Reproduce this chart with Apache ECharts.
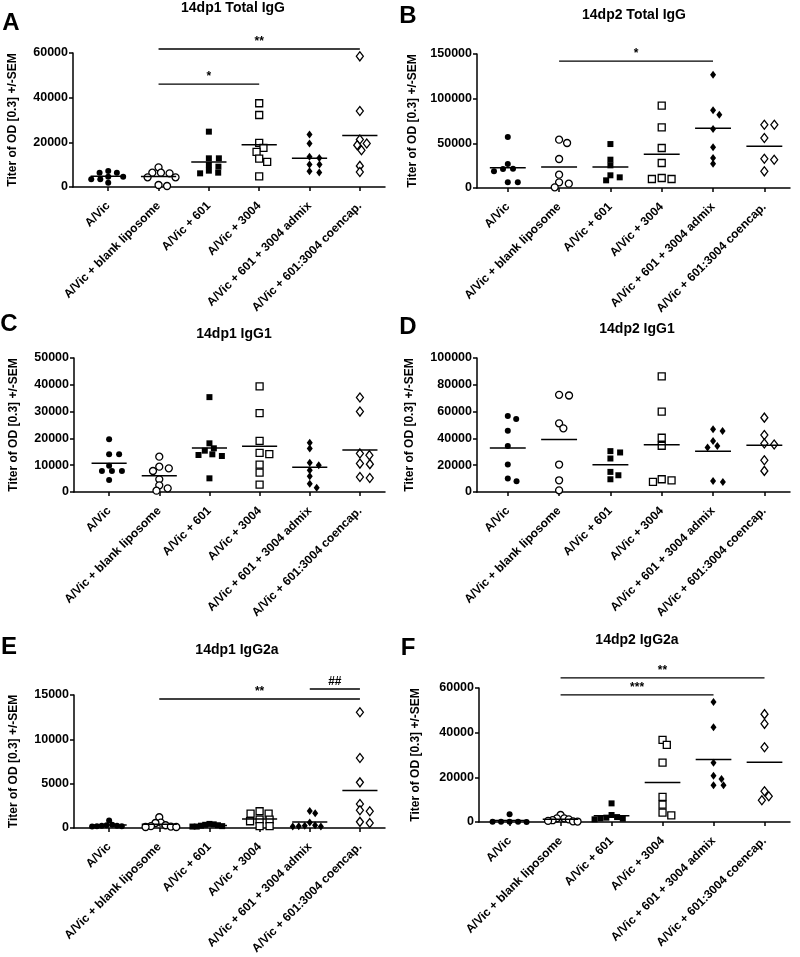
<!DOCTYPE html>
<html><head><meta charset="utf-8">
<script src="https://cdn.jsdelivr.net/npm/echarts@6/dist/echarts.min.js"></script>
<style>html,body{margin:0;padding:0;background:#fff}#c{width:800px;height:957px}</style>
</head><body><div id="c"></div>
<script>
const categories = ['A/Vic','A/Vic + blank liposome','A/Vic + 601','A/Vic + 3004','A/Vic + 601 + 3004 admix','A/Vic + 601:3004 coencap.'];
const titles = ['14dp1 Total IgG','14dp2 Total IgG','14dp1 IgG1','14dp2 IgG1','14dp1 IgG2a','14dp2 IgG2a'];
const letters = ['A','B','C','D','E','F'];
const yMax = [60000,150000,50000,100000,15000,60000];
const yStep = [20000,50000,10000,20000,5000,20000];
const yName = 'Titer of OD [0.3] +/-SEM';

const panelA = [
  [7170,6420,6420,4630,4630,3430,3430,1940],
  [8810,6420,6420,6120,4330,4330,900,450],
  [24780,12840,12840,9850,9110,7320,6420,6120],
  [37500,32250,19800,17550,15750,12750,11250,4800],
  [23550,19500,13500,13000,10050,10050,7050,6450],
  [58500,34050,21300,19500,18750,16500,9450,6750]
];
const panelB = [
  [57000,26900,21600,21300,18650,6340,6340],
  [54100,50350,32450,14900,6340,4850,750],
  [49200,31700,25360,14200,11940,8580],
  [92100,67900,44800,27980,11190,10070,10070],
  [126800,86900,82060,66000,45500,33570,27230],
  [70870,70870,55950,32800,31700,18650]
];
const panelC = [
  [19650,14060,14060,9830,7840,7840,7840,4480],
  [13190,9450,8830,7840,4730,2490,1370,500],
  [35400,18160,16300,15420,14060,13810,13440,5100],
  [39400,29400,19100,14600,14100,10250,7250,2750],
  [18400,16250,10900,10000,8100,5900,3100,1600],
  [35250,30000,14400,13750,10600,10400,5600,5250]
];
const panelD = [
  [56750,54500,45750,34250,20500,10000,8000],
  [72500,72000,51250,47500,20500,8750,1250],
  [30500,29500,25000,15000,12500,9500],
  [86250,60000,40500,34500,9500,8750,7500],
  [46750,45500,38000,34250,33250,8250,7500],
  [55500,42500,36250,35500,23750,15750]
];
const panelE = [
  [830,350,300,250,250,200,200,150],
  [1200,600,550,300,200,150,100,100],
  [450,400,350,300,250,200,150,150],
  [1880,1610,1610,940,940,750,190,190],
  [1920,1650,600,300,250,200,150,150],
  [13050,7880,5140,2700,1990,1880,680,560]
];
const panelF = [
  [3430,150,120,100,80,50],
  [3130,1640,1640,1200,800,500,300,200],
  [8340,3130,2200,1940,1640,1500,1200],
  [36750,34500,26550,11250,7800,4200,3000],
  [53700,42450,26550,20700,19200,16500,16500],
  [48300,43950,33450,13800,11550,9750]
];
// significance brackets: [fromCategory, toCategory, level, label]
const sigA = [[2,6,61800,'**'],[2,4,46100,'*']];
const sigB = [[2,5,142000,'*']];
const sigC = [];
const sigD = [];
const sigE = [[2,6,14550,'**'],[5,6,15680,'##']];
const sigF = [[2,6,64500,'**'],[2,5,56900,'***']];

const panels = [panelA,panelB,panelC,panelD,panelE,panelF];
const sigs = [sigA,sigB,sigC,sigD,sigE,sigF];

const FONT = "'Liberation Sans', Arial, Helvetica, sans-serif";
const X_MAX = 6.5;
const layout = [
  {left:73, top:53, width:312, height:134, xMin:0.3, nameGap:54},
  {left:477, top:54, width:313, height:134, xMin:0.4, nameGap:58},
  {left:74, top:358, width:311, height:134, xMin:0.3, nameGap:54},
  {left:477, top:358, width:313, height:134, xMin:0.4, nameGap:61},
  {left:74, top:695, width:311, height:133, xMin:0.3, nameGap:54},
  {left:479, top:688, width:311, height:134, xMin:0.4, nameGap:57}
];
const titlePos = [[233,8],[634,15],[234,334],[637,329],[237,650],[637,640]];
const letterPos = [[11,23],[408,16],[9,324],[408,327],[9,647],[408,648]];
const markers = [
  {symbol:'circle', size:6, fill:'#000'},
  {symbol:'circle', size:7, fill:'#fff'},
  {symbol:'rect', size:6, fill:'#000'},
  {symbol:'rect', size:7, fill:'#fff'},
  {symbol:'diamond', size:[6,8], fill:'#000'},
  {symbol:'diamond', size:[7,9], fill:'#fff'}
];

// beeswarm jitter computed in pixel space (elliptical collision, capped width)
function swarm(vals, cat, p, lay) {
  const unitPx = lay.width / (X_MAX - lay.xMin);
  const pxPerVal = lay.height / yMax[p];
  const d = 10, yScale = 1.8, maxHalf = 17;
  const placed = [];
  const sorted = vals.slice().sort((a,b)=>b-a);
  for (const v of sorted) {
    const y = v * pxPerVal * yScale;
    const cands = [0];
    for (const q of placed) {
      const dy = Math.abs(q.y - y);
      if (dy < d) {
        const dx = Math.sqrt(d*d - dy*dy);
        cands.push(q.x + dx, q.x - dx);
      }
    }
    cands.sort((a,b)=>Math.abs(a)-Math.abs(b));
    let chosen = 0;
    for (const c of cands) {
      let ok = true;
      for (const q of placed) {
        if ((q.x-c)*(q.x-c) + (q.y-y)*(q.y-y) < d*d - 0.01) { ok = false; break; }
      }
      if (ok) { chosen = c; break; }
    }
    placed.push({x:chosen, y:y, v:v});
  }
  const ext = Math.max(...placed.map(q=>Math.abs(q.x)));
  const k = ext > maxHalf ? maxHalf/ext : 1;
  return placed.map(q => [cat + q.x*k/unitPx, q.v]);
}

const grid = [], xAxis = [], yAxis = [], series = [], graphic = [];
const lineStyle = {color:'#000', width:1.5};
panels.forEach((groups, p) => {
  const lay = layout[p];
  grid.push({left:lay.left, top:lay.top, width:lay.width, height:lay.height, containLabel:false});
  xAxis.push({
    type:'value', gridIndex:p, min:lay.xMin, max:X_MAX,
    axisLine:{show:true, onZero:false, lineStyle},
    axisTick:{show:true, length:4, customValues:[1,2,3,4,5,6], lineStyle},
    axisLabel:{customValues:[1,2,3,4,5,6], rotate:45, margin:17,
      formatter:(v)=>categories[Math.round(v)-1] || '',
      color:'#000', fontWeight:'bold', fontSize:12, fontFamily:FONT},
    splitLine:{show:false}
  });
  yAxis.push({
    type:'value', gridIndex:p, min:0, max:yMax[p], interval:yStep[p],
    name:yName, nameLocation:'middle', nameGap:lay.nameGap,
    nameTextStyle:{color:'#000', fontWeight:'bold', fontSize:12, fontFamily:FONT},
    axisLine:{show:true, lineStyle},
    axisTick:{show:true, length:4, lineStyle},
    axisLabel:{color:'#000', fontWeight:'bold', fontSize:12.5, margin:5, fontFamily:FONT,
      formatter:(v)=>String(v)},
    splitLine:{show:false}
  });
  groups.forEach((vals, k) => {
    const m = markers[k];
    series.push({
      type:'scatter', xAxisIndex:p, yAxisIndex:p,
      symbol:m.symbol, symbolSize:m.size,
      itemStyle:{color:m.fill, borderColor:'#000', borderWidth: m.fill === '#fff' ? 1.3 : 0, opacity:1},
      data: swarm(vals, k+1, p, lay), z:2, silent:true
    });
  });
  // mean lines
  const means = groups.map((vals,k)=>[k+1, vals.reduce((a,b)=>a+b,0)/vals.length]);
  series.push({
    type:'custom', xAxisIndex:p, yAxisIndex:p, encode:{x:0, y:1}, z:3, silent:true,
    data: means,
    renderItem:(params, api) => {
      const c = api.value(0), mv = api.value(1);
      const p1 = api.coord([c-0.35, mv]), p2 = api.coord([c+0.35, mv]);
      return {type:'line', shape:{x1:p1[0], y1:p1[1], x2:p2[0], y2:p2[1]}, style:{stroke:'#000', lineWidth:1.5}};
    }
  });
  // significance brackets
  const sg = sigs[p];
  if (sg.length) {
    series.push({
      type:'custom', xAxisIndex:p, yAxisIndex:p, encode:{x:[0,1], y:2}, clip:false, z:3, silent:true,
      data: sg.map(s=>[s[0], s[1], s[2]]),
      renderItem:(params, api) => {
        const yv = api.value(2);
        const p1 = api.coord([api.value(0), yv]), p2 = api.coord([api.value(1), yv]);
        return {type:'group', children:[
          {type:'line', shape:{x1:p1[0], y1:p1[1], x2:p2[0], y2:p2[1]}, style:{stroke:'#000', lineWidth:1.3}},
          {type:'text', x:(p1[0]+p2[0])/2, y:p1[1]-1,
           style:{text:sg[params.dataIndex][3], align:'center', verticalAlign:'bottom', fill:'#000',
                  font:"bold 12px " + FONT}}
        ]};
      }
    });
  }
  graphic.push({type:'text', x:titlePos[p][0], y:titlePos[p][1],
    style:{text:titles[p], align:'center', verticalAlign:'middle', fill:'#000', font:"bold 14px " + FONT}});
  graphic.push({type:'text', x:letterPos[p][0], y:letterPos[p][1],
    style:{text:letters[p], align:'center', verticalAlign:'middle', fill:'#000', font:"bold 24px " + FONT}});
});

const chart = echarts.init(document.getElementById('c'), null, {renderer:'canvas'});
chart.setOption({animation:false, backgroundColor:'#fff', grid, xAxis, yAxis, series, graphic});
</script>
</body></html>
